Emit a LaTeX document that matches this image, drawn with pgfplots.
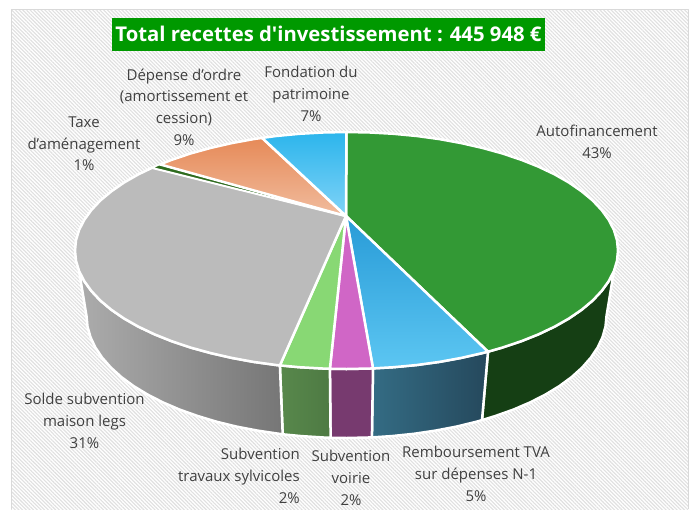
\documentclass[border=0pt]{standalone}
\usepackage{fontspec}
\setmainfont{Open Sans}
\newfontfamily\titlefont{Open Sans}
\usepackage{pgfplots}
\pgfplotsset{compat=1.18}
\usetikzlibrary{patterns.meta}
\definecolor{lab}{HTML}{404040}
\begin{document}
\begin{tikzpicture}
\begin{axis}[
  hide axis, scale only axis, width=696pt, height=509pt,
  xmin=0, xmax=696, ymin=0, ymax=509, y dir=reverse, clip=false,
  every axis plot/.append style={line join=round},
]
% background
\addplot[draw=none, fill=white, forget plot] coordinates {(0,0)(696,0)(696,509)(0,509)} -- cycle;
\addplot[draw=none, pattern={Lines[angle=-45,distance=2.6pt,line width=1.1pt]}, pattern color=black!12, forget plot] coordinates {(11,9)(688,9)(688,509)(11,509)} -- cycle;
\addplot[draw=black!15, line width=0.8pt, forget plot] coordinates {(11,509)(11,9)(688,9)(688,509)};
% title box
\addplot[draw=none, fill={rgb,255:red,0;green,153;blue,0}] coordinates {(112,18)(545,18)(545,51)(112,51)} -- cycle;
% sides
\addplot[draw=white, line width=2.5pt, fill={rgb,255:red,21;green,63;blue,20}] coordinates {
(613.9,271.1)(608.7,281.2)(601.6,291.0)(592.6,300.6)(581.6,309.8)(568.9,318.5)(554.5,326.7)(538.5,334.3)(521.0,341.3)(502.2,347.6)(488,351.7)
(482,420.1)(495.6,415.9)(513.6,409.5)(530.3,402.3)(545.7,394.4)(559.5,386)(571.7,377)(582.1,367.6)(590.8,357.7)(597.6,347.6)(602.5,337.2)(605.5,326.6)(606.5,316)} -- cycle;
\addplot[draw=white, line width=2.5pt, left color={rgb,255:red,52;green,108;blue,132}, right color={rgb,255:red,37;green,72;blue,92}] coordinates {
(488,351.7)(482.3,353.1)(461.2,357.9)(439.4,361.9)(416.8,365)(393.6,367.2)(373,368.4)
(371.9,437.4)(391.6,436.1)(413.8,433.8)(435.4,430.6)(456.4,426.6)(476.5,421.7)(482,420.1)} -- cycle;
\addplot[draw=white, line width=2.5pt, fill={rgb,255:red,119;green,58;blue,111}] coordinates {
(373,368.4)(370.2,368.5)(346.5,369)(329.9,368.8)(330.6,437.8)(346.5,438)(371.9,437.4)} -- cycle;
\addplot[draw=white, line width=2.5pt, left color={rgb,255:red,88;green,136;blue,76}, right color={rgb,255:red,78;green,122;blue,67}] coordinates {
(329.9,368.8)(322.8,368.5)(299.4,367.2)(279.9,365.4)(282.7,434.3)(301.4,436.1)(323.8,437.5)(330.6,437.8)} -- cycle;
\addplot[draw=white, line width=2.5pt, left color={rgb,255:red,172;green,172;blue,172}, right color={rgb,255:red,118;green,118;blue,118}] coordinates {
(279.9,365.4)(276.2,365)(253.6,361.9)(231.8,357.9)(210.8,353.1)(190.8,347.6)(172.0,341.3)(154.5,334.3)(138.5,326.7)(124.1,318.5)(111.4,309.8)(100.4,300.6)(91.4,291.0)(84.3,281.2)(79.1,271.1)
(86.5,316)(87.5,326.6)(90.5,337.2)(95.4,347.6)(102.2,357.7)(110.9,367.6)(121.3,377)(133.5,386)(147.3,394.4)(162.7,402.3)(179.4,409.5)(197.4,415.9)(216.5,421.7)(236.6,426.6)(257.6,430.6)(279.2,433.8)(282.7,434.3)} -- cycle;
% top
\addplot[draw=white, line width=2.5pt, fill={rgb,255:red,51;green,153;blue,53}] coordinates {
(346,216)(346.5,132)(370.2,132.5)(393.6,133.8)(416.8,136)(439.4,139.1)(461.2,143.1)(482.3,147.9)(502.2,153.4)(521.0,159.7)(538.5,166.7)(554.5,174.3)(568.9,182.5)(581.6,191.3)(592.6,200.4)(601.6,210.0)(608.7,219.8)(613.9,229.9)(617,240.2)(618,250.5)(617,260.8)(613.9,271.1)(608.7,281.2)(601.6,291.0)(592.6,300.6)(581.6,309.8)(568.9,318.5)(554.5,326.7)(538.5,334.3)(521.0,341.3)(502.2,347.6)(488,351.7)} -- cycle;
\addplot[draw=white, line width=2.5pt, top color={rgb,255:red,40;green,155;blue,215}, bottom color={rgb,255:red,92;green,198;blue,242}] coordinates {
(346,216)(488,351.7)(482.3,353.1)(461.2,357.9)(439.4,361.9)(416.8,365)(393.6,367.2)(373,368.4)} -- cycle;
\addplot[draw=white, line width=2.5pt, fill={rgb,255:red,208;green,102;blue,198}] coordinates {
(346,216)(373,368.4)(370.2,368.5)(346.5,369)(329.9,368.8)} -- cycle;
\addplot[draw=white, line width=2.5pt, fill={rgb,255:red,136;green,216;blue,116}] coordinates {
(346,216)(329.9,368.8)(322.8,368.5)(299.4,367.2)(279.9,365.4)} -- cycle;
\addplot[draw=white, line width=2.5pt, fill={rgb,255:red,187;green,187;blue,187}] coordinates {
(346,216)(279.9,365.4)(276.2,365)(253.6,361.9)(231.8,357.9)(210.8,353.1)(190.8,347.6)(172.0,341.3)(154.5,334.3)(138.5,326.7)(124.1,318.5)(111.4,309.8)(100.4,300.6)(91.4,291.0)(84.3,281.2)(79.1,271.1)(76,260.8)(75,250.5)(76,240.2)(79.1,229.9)(84.3,219.8)(91.4,210.0)(100.4,200.4)(111.4,191.3)(124.1,182.5)(138.5,174.3)(152.2,167.7)} -- cycle;
\addplot[draw=white, line width=1.5pt, fill={rgb,255:red,46;green,107;blue,30}] coordinates {
(346,216)(152.2,167.7)(154.5,166.7)(160,164.4)} -- cycle;
\addplot[draw=white, line width=2.5pt, top color={rgb,255:red,230;green,138;blue,88}, bottom color={rgb,255:red,241;green,188;blue,158}] coordinates {
(346,216)(160,164.4)(172,159.7)(190.8,153.4)(210.8,147.9)(231.8,143.1)(253.6,139.1)(262.1,137.9)} -- cycle;
\addplot[draw=white, line width=2.5pt, top color={rgb,255:red,44;green,181;blue,236}, bottom color={rgb,255:red,128;green,211;blue,247}] coordinates {
(346,216)(262.1,137.9)(276.2,136)(299.4,133.8)(322.8,132.5)(346.5,132)} -- cycle;
% labels
\node[text=white, font=\titlefont\bfseries\fontsize{20.3}{24}\selectfont] at (axis cs:328.5,34) {Total recettes d'investissement : 445 948 €};
\tikzset{lbl/.style={text=lab, align=center, font=\fontsize{15}{21.7}\selectfont, inner sep=0pt}}
\node[lbl] at (axis cs:184,107) {Dépense d'ordre\\(amortissement et\\cession)\\9\%};
\node[lbl] at (axis cs:311,94) {Fondation du\\patrimoine\\7\%};
\node[lbl] at (axis cs:84,144) {Taxe\\d'aménagement\\1\%};
\node[lbl] at (axis cs:597,142) {Autofinancement\\43\%};
\node[lbl] at (axis cs:84.5,421) {Solde subvention\\maison legs\\31\%};
\node[lbl, align=right, anchor=east] at (axis cs:300,476) {Subvention\\travaux sylvicoles\\2\%};
\node[lbl] at (axis cs:351,478) {Subvention\\voirie\\2\%};
\node[lbl] at (axis cs:476,474) {Remboursement TVA\\sur dépenses N-1\\5\%};
\end{axis}
\end{tikzpicture}
\end{document}
